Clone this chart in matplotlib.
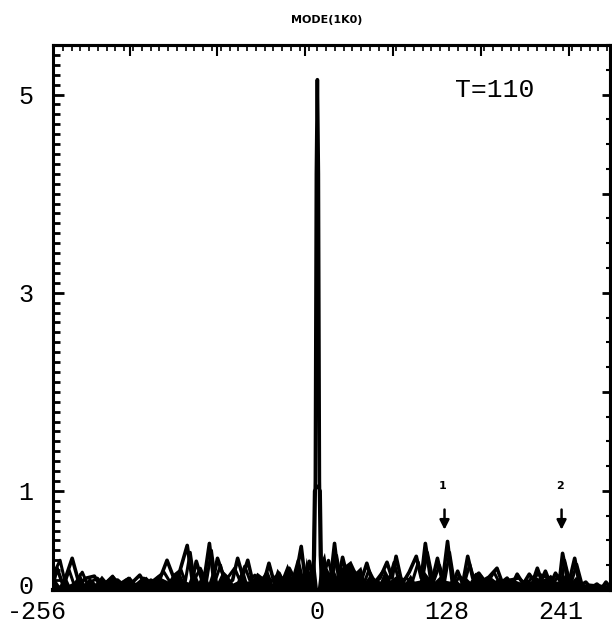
import numpy as np
import matplotlib
matplotlib.use("Agg")
import matplotlib.pyplot as plt
from matplotlib.ticker import FixedLocator, MultipleLocator
import matplotlib.transforms as mtransforms

# mode number (k) and amplitude: main outline curve
mode_a = [-262, -258, -252, -243, -236, -229, -221, -215, -207, -198, -190, -183,
          -176, -170, -165, -158, -149, -140, -129, -124, -120, -113, -107, -103,
          -99, -90, -84, -79, -74, -69, -64, -60, -54, -48, -43, -38, -33, -28,
          -22, -16, -12, -8, -4, -3, -2, -1, 0, 1, 2, 3, 4, 9, 13, 17, 21, 25, 30,
          37, 43, 49, 55, 62, 69, 74, 78, 84, 91, 98, 103, 107, 113, 119, 124, 129,
          134, 139, 144, 149, 154, 160, 165, 170, 178, 183, 188, 193, 198, 204, 210,
          214, 218, 222, 226, 231, 236, 240, 243, 249, 255, 260, 266, 271, 277, 282,
          286, 290]
amp_a = [0.05, 0.22, 0.05, 0.32, 0.06, 0.12, 0.14, 0.04, 0.09, 0.10, 0.03, 0.08,
         0.15, 0.05, 0.10, 0.06, 0.30, 0.06, 0.45, 0.10, 0.29, 0.05, 0.47, 0.12,
         0.32, 0.05, 0.10, 0.32, 0.14, 0.30, 0.08, 0.09, 0.04, 0.27, 0.08, 0.17,
         0.06, 0.22, 0.10, 0.44, 0.10, 0.29, 0.10, 0.35, 1.10, 4.20, 5.15, 4.20,
         1.10, 0.35, 0.12, 0.20, 0.10, 0.47, 0.12, 0.33, 0.12, 0.18, 0.08, 0.27,
         0.06, 0.12, 0.28, 0.12, 0.34, 0.06, 0.18, 0.34, 0.12, 0.47, 0.06, 0.32,
         0.08, 0.49, 0.05, 0.19, 0.06, 0.34, 0.12, 0.17, 0.10, 0.13, 0.22, 0.08,
         0.12, 0.05, 0.16, 0.06, 0.16, 0.10, 0.22, 0.10, 0.19, 0.06, 0.17, 0.10,
         0.37, 0.06, 0.32, 0.04, 0.08, 0.02, 0.06, 0.02, 0.08, 0.03]

# second overlaid outline curve
mode_c = [-262, -255, -250, -246, -241, -233, -228, -218, -212, -203, -196, -187,
          -180, -172, -167, -152, -146, -135, -131, -126, -122, -116, -110, -105,
          -101, -96, -92, -82, -77, -72, -67, -62, -57, -50, -46, -41, -36, -30,
          -25, -19, -14, -10, -6, -4, -3, 0, 3, 4, 6, 11, 15, 19, 23, 27, 33, 40,
          46, 51, 57, 66, 71, 76, 81, 88, 94, 100, 104, 109, 115, 121, 126, 131,
          136, 141, 146, 151, 156, 162, 168, 175, 181, 190, 200, 207, 212, 220,
          228, 234, 238, 242, 245, 251, 257, 263, 270, 280, 290]
amp_c = [0.15, 0.30, 0.08, 0.20, 0.05, 0.18, 0.06, 0.12, 0.05, 0.14, 0.05, 0.12,
         0.05, 0.12, 0.06, 0.18, 0.08, 0.20, 0.08, 0.38, 0.10, 0.22, 0.08, 0.40,
         0.10, 0.25, 0.08, 0.22, 0.10, 0.24, 0.10, 0.15, 0.06, 0.18, 0.08, 0.14,
         0.06, 0.18, 0.08, 0.30, 0.08, 0.22, 0.08, 0.30, 1.00, 1.05, 1.00, 0.30,
         0.15, 0.30, 0.12, 0.35, 0.12, 0.25, 0.10, 0.15, 0.06, 0.20, 0.08, 0.20,
         0.10, 0.28, 0.08, 0.12, 0.08, 0.28, 0.10, 0.38, 0.08, 0.25, 0.08, 0.38,
         0.06, 0.14, 0.08, 0.26, 0.08, 0.14, 0.06, 0.18, 0.06, 0.10, 0.12, 0.05,
         0.12, 0.16, 0.12, 0.06, 0.14, 0.05, 0.30, 0.05, 0.26, 0.03, 0.05, 0.04,
         0.03]

# filled background noise
mode_b = [-262, -256, -250, -246, -240, -236, -231, -226, -220, -214, -209, -203,
          -197, -191, -186, -181, -175, -170, -164, -159, -154, -148, -143, -138,
          -133, -128, -123, -118, -113, -108, -103, -99, -94, -89, -84, -80, -74,
          -70, -65, -60, -55, -50, -45, -40, -35, -30, -25, -20, -15, -11, -7, -3,
          0, 3, 7, 11, 15, 19, 24, 28, 33, 38, 43, 47, 52, 57, 62, 66, 72, 77, 82,
          87, 92, 96, 101, 106, 111, 116, 121, 126, 131, 136, 141, 146, 151, 156,
          161, 166, 171, 176, 181, 186, 191, 196, 201, 206, 211, 216, 221, 226,
          231, 236, 241, 246, 251, 256, 261, 266, 271, 276, 281, 286, 290]
amp_b = [0.14, 0.05, 0.15, 0.06, 0.09, 0.18, 0.07, 0.13, 0.07, 0.15, 0.09, 0.16,
         0.08, 0.12, 0.14, 0.07, 0.11, 0.14, 0.08, 0.15, 0.12, 0.09, 0.17, 0.21,
         0.10, 0.08, 0.22, 0.09, 0.19, 0.08, 0.24, 0.09, 0.20, 0.15, 0.07, 0.09,
         0.23, 0.09, 0.10, 0.18, 0.14, 0.17, 0.07, 0.22, 0.14, 0.27, 0.12, 0.29,
         0.10, 0.33, 0.09, 0.30, 0.02, 0.28, 0.38, 0.12, 0.24, 0.14, 0.22, 0.26,
         0.30, 0.19, 0.24, 0.09, 0.16, 0.12, 0.09, 0.19, 0.10, 0.14, 0.16, 0.08,
         0.16, 0.09, 0.10, 0.19, 0.12, 0.09, 0.14, 0.10, 0.09, 0.12, 0.07, 0.14,
         0.09, 0.18, 0.14, 0.12, 0.14, 0.10, 0.13, 0.09, 0.12, 0.10, 0.08, 0.12,
         0.09, 0.14, 0.11, 0.12, 0.16, 0.09, 0.09, 0.18, 0.08, 0.14, 0.06, 0.06,
         0.04, 0.05, 0.04, 0.05, 0.04]

xtick_vals = [-256, 0, 128, 241]
ytick_vals = [0, 1, 3, 5]
arrow_modes = [126, 242]
arrow_labels = ["1", "2"]

mono = "Liberation Mono"

fig = plt.figure(figsize=(6.12, 6.29), dpi=100)
ax = fig.add_axes([53 / 612, 39 / 629, 557 / 612, 545 / 629])

ax.fill_between(mode_b, 0, amp_b, color="black", lw=0)
ax.plot(mode_c, amp_c, color="black", lw=2.2)
ax.plot(mode_a, amp_a, color="black", lw=2.6)

ax.set_xlim(-262, 290)
ax.set_ylim(0, 5.5)

for s in ax.spines.values():
    s.set_linewidth(2.2)
ax.spines["bottom"].set_linewidth(3)

ax.set_xticks(xtick_vals)
ax.set_xticklabels([str(v) for v in xtick_vals], fontfamily=mono, fontsize=18)
ax.yaxis.set_major_locator(FixedLocator(ytick_vals))
ax.set_yticklabels([str(v) for v in ytick_vals], fontfamily=mono, fontsize=18)
ax.yaxis.set_minor_locator(MultipleLocator(0.1))
ax.tick_params(axis="x", which="both", top=False, bottom=False, pad=4)
ax.tick_params(axis="y", which="major", direction="in", length=8, width=2,
               left=True, right=False, pad=14)
ax.tick_params(axis="y", which="minor", direction="in", length=5, width=2,
               left=True, right=False)

# shift the -256 label left, the y "0" label up, like the original
lab0 = ax.get_xticklabels()[0]
lab0.set_transform(lab0.get_transform() +
                   mtransforms.ScaledTranslation(-22 / 100, 0, fig.dpi_scale_trans))
ylab0 = ax.get_yticklabels()[0]
ylab0.set_transform(ylab0.get_transform() +
                    mtransforms.ScaledTranslation(0, 5 / 100, fig.dpi_scale_trans))

# top axis ticks
top = ax.secondary_xaxis("top")
top.set_xticks(np.arange(-186, 290, 87))
top.xaxis.set_minor_locator(MultipleLocator(8.7))
top.tick_params(which="major", direction="in", length=8, width=1.5, labeltop=False)
top.tick_params(which="minor", direction="in", length=4, width=1.2)
top.spines["top"].set_linewidth(2.2)

# right axis: sparse small ticks
right = ax.secondary_yaxis("right")
right.yaxis.set_major_locator(MultipleLocator(1))
right.yaxis.set_minor_locator(MultipleLocator(0.25))
right.tick_params(which="major", direction="in", length=6, width=2, labelright=False)
right.tick_params(which="minor", direction="in", length=3, width=1.5)
right.spines["right"].set_linewidth(2.2)

ax.text(136, 5.05, "T=110", fontfamily=mono, fontsize=19, va="center", ha="left")

for m, lab in zip(arrow_modes, arrow_labels):
    ax.annotate("", xy=(m, 0.58), xytext=(m, 0.84),
                arrowprops=dict(arrowstyle="-|>", color="black", lw=1.8,
                                mutation_scale=14))
    ax.text(m - 2, 1.05, lab, fontsize=8, fontweight="bold", ha="center", va="center")

fig.text(327 / 612, 1 - 20 / 629, "MODE(1K0)", fontsize=8, fontweight="bold",
         ha="center", va="center")

fig.savefig("out.png", dpi=100)
